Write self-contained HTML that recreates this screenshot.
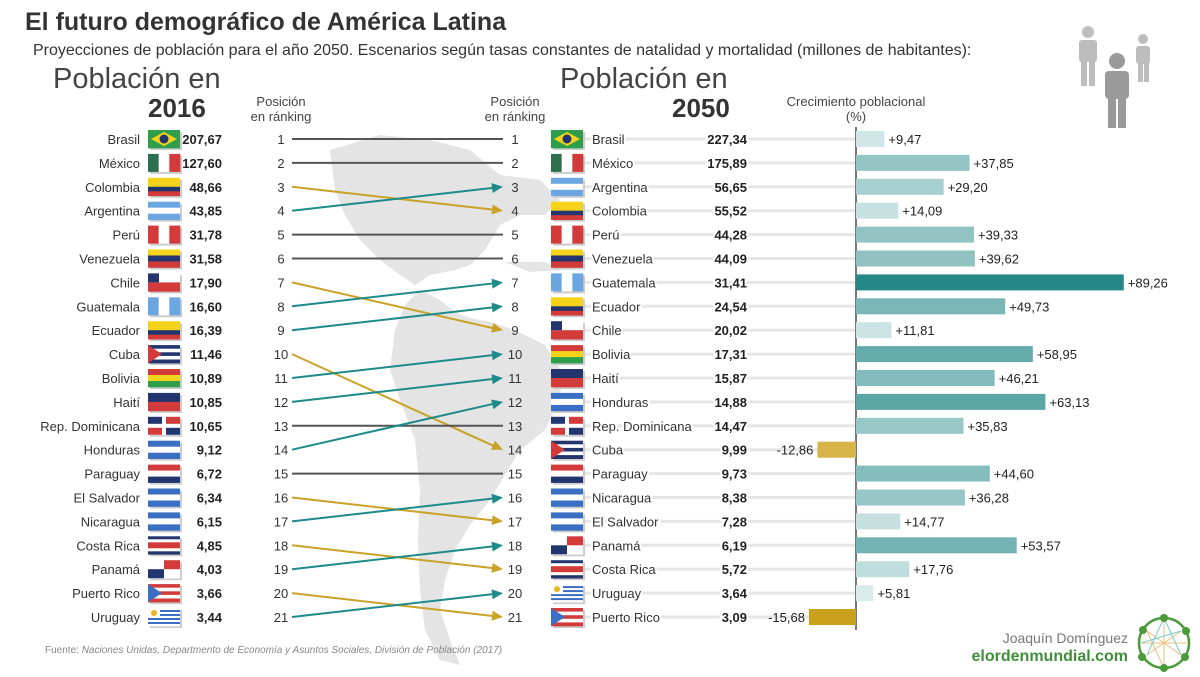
<!DOCTYPE html>
<html><head><meta charset="utf-8"><style>
body{margin:0;background:#fff;}
svg{display:block;font-family:"Liberation Sans",sans-serif;}
</style></head><body>
<svg id="chart" width="1200" height="677" viewBox="0 0 1200 677">
<g id="map">
<path fill="#e4e4e4" d="M330,150 L380,135 L430,140 L470,150 L500,175 L540,180 L560,200 L545,215 L520,215 L500,225 L485,250 L470,265 L455,270 L430,275 L415,285 L400,275 L380,260 L360,240 L345,215 L335,190 Z"/>
<path fill="#e4e4e4" d="M420,290 L440,300 L455,312 L470,318 L490,322 L515,330 L545,345 L562,372 L560,400 L545,430 L520,450 L505,475 L490,500 L470,525 L455,550 L445,580 L440,610 L450,640 L460,665 L440,660 L425,630 L420,590 L418,540 L420,490 L415,440 L400,400 L390,370 L395,330 L405,305 Z"/>
<path fill="#e4e4e4" d="M505,262 L545,262 L560,270 L530,272 Z"/>
</g>
<text x="25" y="30" font-size="25" font-weight="bold" fill="#333">El futuro demográfico de América Latina</text>
<text x="33" y="55" font-size="16" fill="#333">Proyecciones de población para el año 2050. Escenarios según tasas constantes de natalidad y mortalidad (millones de habitantes):</text>
<text x="53" y="88" font-size="29" fill="#444">Población en</text>
<text x="148" y="117" font-size="26" font-weight="bold" fill="#333">2016</text>
<text x="560" y="88" font-size="29" fill="#444">Población en</text>
<text x="672" y="117" font-size="26" font-weight="bold" fill="#333">2050</text>
<g font-size="13" fill="#444" text-anchor="middle">
<text x="281" y="106">Posición</text><text x="281" y="121">en ránking</text>
<text x="515" y="106">Posición</text><text x="515" y="121">en ránking</text>
<text x="856" y="106">Crecimiento poblacional</text><text x="856" y="121">(%)</text>
</g>
<g id="people" fill="#bdbdbd">
<circle cx="1088" cy="32" r="6"/><rect x="1079" y="40" width="18" height="22" rx="3"/><rect x="1081" y="60" width="6" height="26"/><rect x="1089" y="60" width="6" height="26"/>
<circle cx="1143" cy="39" r="5"/><rect x="1136" y="46" width="14" height="18" rx="3"/><rect x="1138" y="62" width="5" height="20"/><rect x="1144" y="62" width="5" height="20"/>
<g fill="#9a9a9a"><circle cx="1117" cy="61" r="8"/><rect x="1105" y="71" width="24" height="28" rx="4"/><rect x="1108" y="97" width="8" height="31"/><rect x="1118" y="97" width="8" height="31"/></g>
</g>
<g id="rows"></g>
<line x1="856" y1="127" x2="856" y2="630" stroke="#777" stroke-width="2"/>
<g id="bars"></g>
<text x="45" y="653" font-size="10" fill="#888">Fuente: <tspan font-style="italic">Naciones Unidas, Departmento de Economía y Asuntos Sociales, División de Población (2017)</tspan></text>
<text x="1128" y="643" font-size="14" fill="#777" text-anchor="end">Joaquín Domínguez</text>
<text x="1128" y="661" font-size="16" font-weight="bold" fill="#3f8f3a" text-anchor="end">elordenmundial.com</text>
<g>
<circle cx="1164" cy="643" r="25" fill="none" stroke="#4a9a3a" stroke-width="2.5"/>
<path d="M1147,631 L1181,655 M1147,655 L1181,631 M1164,618 L1164,668 M1141,643 L1187,643 M1147,631 L1164,668 M1181,631 L1147,655" stroke="#e8b060" stroke-width="1" opacity="0.8"/>
<path d="M1164,618 L1181,655 M1164,618 L1147,655 M1141,643 L1181,631" stroke="#7cc" stroke-width="1"/>
<circle cx="1164" cy="618" r="4" fill="#4a9a3a"/><circle cx="1186" cy="631" r="4" fill="#4a9a3a"/><circle cx="1185" cy="657" r="4" fill="#4a9a3a"/><circle cx="1164" cy="668" r="4" fill="#4a9a3a"/><circle cx="1142" cy="657" r="4" fill="#4a9a3a"/><circle cx="1143" cy="630" r="4" fill="#4a9a3a"/>
</g>
</svg>
<script>
const countries2016 = ["Brasil","México","Colombia","Argentina","Perú","Venezuela","Chile","Guatemala","Ecuador","Cuba","Bolivia","Haití","Rep. Dominicana","Honduras","Paraguay","El Salvador","Nicaragua","Costa Rica","Panamá","Puerto Rico","Uruguay"];
const pop2016 = [207.67,127.60,48.66,43.85,31.78,31.58,17.90,16.60,16.39,11.46,10.89,10.85,10.65,9.12,6.72,6.34,6.15,4.85,4.03,3.66,3.44];
const countries2050 = ["Brasil","México","Argentina","Colombia","Perú","Venezuela","Guatemala","Ecuador","Chile","Bolivia","Haití","Honduras","Rep. Dominicana","Cuba","Paraguay","Nicaragua","El Salvador","Panamá","Costa Rica","Uruguay","Puerto Rico"];
const pop2050 = [227.34,175.89,56.65,55.52,44.28,44.09,31.41,24.54,20.02,17.31,15.87,14.88,14.47,9.99,9.73,8.38,7.28,6.19,5.72,3.64,3.09];
const growth = [9.47,37.85,29.20,14.09,39.33,39.62,89.26,49.73,11.81,58.95,46.21,63.13,35.83,-12.86,44.60,36.28,14.77,53.57,17.76,5.81,-15.68];

const NS="http://www.w3.org/2000/svg";
const rowY = i => 139 + i*23.9;
const xGrowth = v => 856 + v*3.0;
function mk(tag, attrs, parent, txt){
  const e=document.createElementNS(NS,tag);
  for(const k in attrs) e.setAttribute(k,attrs[k]);
  if(txt!==undefined) e.textContent=txt;
  parent.appendChild(e); return e;
}
const fmt = v => v.toFixed(2).replace('.',',');
const B="#3a6fc4",LB="#6ca6e0",R="#d33b3b",W="#fff",G="#2e9e4a",Y="#f5d31b",DB="#22356e";
const flagSpec={
 "Brasil":{h:[G]},"México":{v:["#2f6e4e",W,R]},"Colombia":{h:[Y,Y,DB,R]},"Argentina":{h:[LB,W,LB]},
 "Perú":{v:[R,W,R]},"Venezuela":{h:[Y,DB,R]},"Chile":{h:[W,R]},"Guatemala":{v:[LB,W,LB]},
 "Ecuador":{h:[Y,Y,DB,R]},"Cuba":{h:[DB,W,DB,W,DB]},"Bolivia":{h:[R,Y,G]},"Haití":{h:[DB,R]},
 "Rep. Dominicana":{h:[W]},"Honduras":{h:[B,W,B]},"Paraguay":{h:[R,W,DB]},"El Salvador":{h:[B,W,B]},
 "Nicaragua":{h:[B,W,B]},"Costa Rica":{h:[DB,W,R,R,W,DB]},"Panamá":{h:[W]},"Puerto Rico":{h:[R,W,R,W,R]},"Uruguay":{h:[W,B,W,B,W,B,W,B,W]}
};
function flag(name,x,y,parent){
  const g=mk('g',{},parent);
  
  
  const w=32,h=18,s=flagSpec[name];
  mk('rect',{x:x+2,y:y+2,width:w,height:h,fill:'#ccc'},g);
  if(s.h){const n=s.h.length;s.h.forEach((c,i)=>mk('rect',{x:x,y:y+i*h/n,width:w,height:h/n+0.3,fill:c},g));}
  if(s.v){s.v.forEach((c,i)=>mk('rect',{x:x+i*w/3,y:y,width:w/3+0.3,height:h,fill:c},g));}
  if(name==="Brasil"){mk('polygon',{points:`${x+16},${y+2} ${x+29},${y+9} ${x+16},${y+16} ${x+3},${y+9}`,fill:Y},g);mk('circle',{cx:x+16,cy:y+9,r:4.5,fill:DB},g);}
  if(name==="Chile")mk('rect',{x:x,y:y,width:11,height:9,fill:DB},g);
  if(name==="Cuba"||name==="Puerto Rico")mk('polygon',{points:`${x},${y} ${x+14},${y+9} ${x},${y+18}`,fill:name==="Cuba"?R:B},g);
  if(name==="Rep. Dominicana"){mk('rect',{x:x,y:y,width:14,height:7,fill:DB},g);mk('rect',{x:x+18,y:y,width:14,height:7,fill:R},g);mk('rect',{x:x,y:y+11,width:14,height:7,fill:R},g);mk('rect',{x:x+18,y:y+11,width:14,height:7,fill:DB},g);}
  if(name==="Panamá"){mk('rect',{x:x+16,y:y,width:16,height:9,fill:R},g);mk('rect',{x:x,y:y+9,width:16,height:9,fill:DB},g);}
  if(name==="Uruguay"){mk('rect',{x:x,y:y,width:12,height:10,fill:W},g);mk('circle',{cx:x+6,cy:y+5,r:3,fill:"#e8b820"},g);}
}
const rows=document.getElementById('rows');
countries2016.forEach((c,i)=>{
  const y=rowY(i);
  const t1=mk('text',{x:140,y:y+5,'font-size':13,fill:'#333','text-anchor':'end'},rows,c);
  
  
  flag(c,148,y-9,rows);
  const t2=mk('text',{x:222,y:y+5,'font-size':13,'font-weight':'bold',fill:'#222','text-anchor':'end'},rows,fmt(pop2016[i]));
  
  
  const t3=mk('text',{x:281,y:y+5,'font-size':13,fill:'#333','text-anchor':'middle'},rows,String(i+1));
  
  
  const t4=mk('text',{x:515,y:y+5,'font-size':13,fill:'#333','text-anchor':'middle'},rows,String(i+1));
  
  
  const j=countries2050.indexOf(c);
  const col=j===i?'#555':(j<i?'#1f8a8a':'#c9a227');
  const y2=rowY(j);
  const ln=mk('line',{x1:292,y1:y,x2:j===i?503:494,y2:j===i?y2:y2-(y2-y)*(8/211),stroke:col,'stroke-width':2},rows);
  
  
  if(j!==i){
    const ang=Math.atan2(y2-y,211);
    const tx=503,ty=y2,ca=Math.cos(ang),sa=Math.sin(ang);
    const p=[[tx,ty],[tx-11*ca+5*sa,ty-11*sa-5*ca],[tx-11*ca-5*sa,ty-11*sa+5*ca]];
    const ar=mk('polygon',{points:p.map(q=>q.join(',')).join(' '),fill:col},rows);
    
    
  }
});
const bars=document.getElementById('bars');
function barColor(v){
  if(v<0) return v<-14?'#c9a01a':'#d6b448';
  const t=Math.min(1,v/90);
  const a=[230,242,242],b=[35,134,134];
  return 'rgb('+a.map((x,k)=>Math.round(x+(b[k]-x)*t)).join(',')+')';
}
countries2050.forEach((c,j)=>{
  const y=rowY(j);
  const lead=mk('line',{x1:583,y1:y,x2:856,y2:y,stroke:'#e6e6e6','stroke-width':3},rows);
  
  
  flag(c,551,y-9,rows);
  const t1=mk('text',{x:592,y:y+5,'font-size':13,fill:'#333',stroke:'#fff','stroke-width':4,'paint-order':'stroke'},rows,c);
  
  
  const t2=mk('text',{x:747,y:y+5,'font-size':13,'font-weight':'bold',fill:'#222','text-anchor':'end',stroke:'#fff','stroke-width':4,'paint-order':'stroke'},rows,fmt(pop2050[j]));
  
  
  const v=growth[j],x0=Math.min(xGrowth(0),xGrowth(v)),x1=Math.max(xGrowth(0),xGrowth(v));
  const r=mk('rect',{x:x0,y:y-8,width:x1-x0,height:16,fill:barColor(v)},bars);
  
  
  const lbl=(v>=0?'+':'')+fmt(v);
  const t3=mk('text',{x:v>=0?x1+4:x0-4,y:y+5,'font-size':13,fill:'#222','text-anchor':v>=0?'start':'end'},bars,lbl);
  
  
});
</script>
</body></html>
